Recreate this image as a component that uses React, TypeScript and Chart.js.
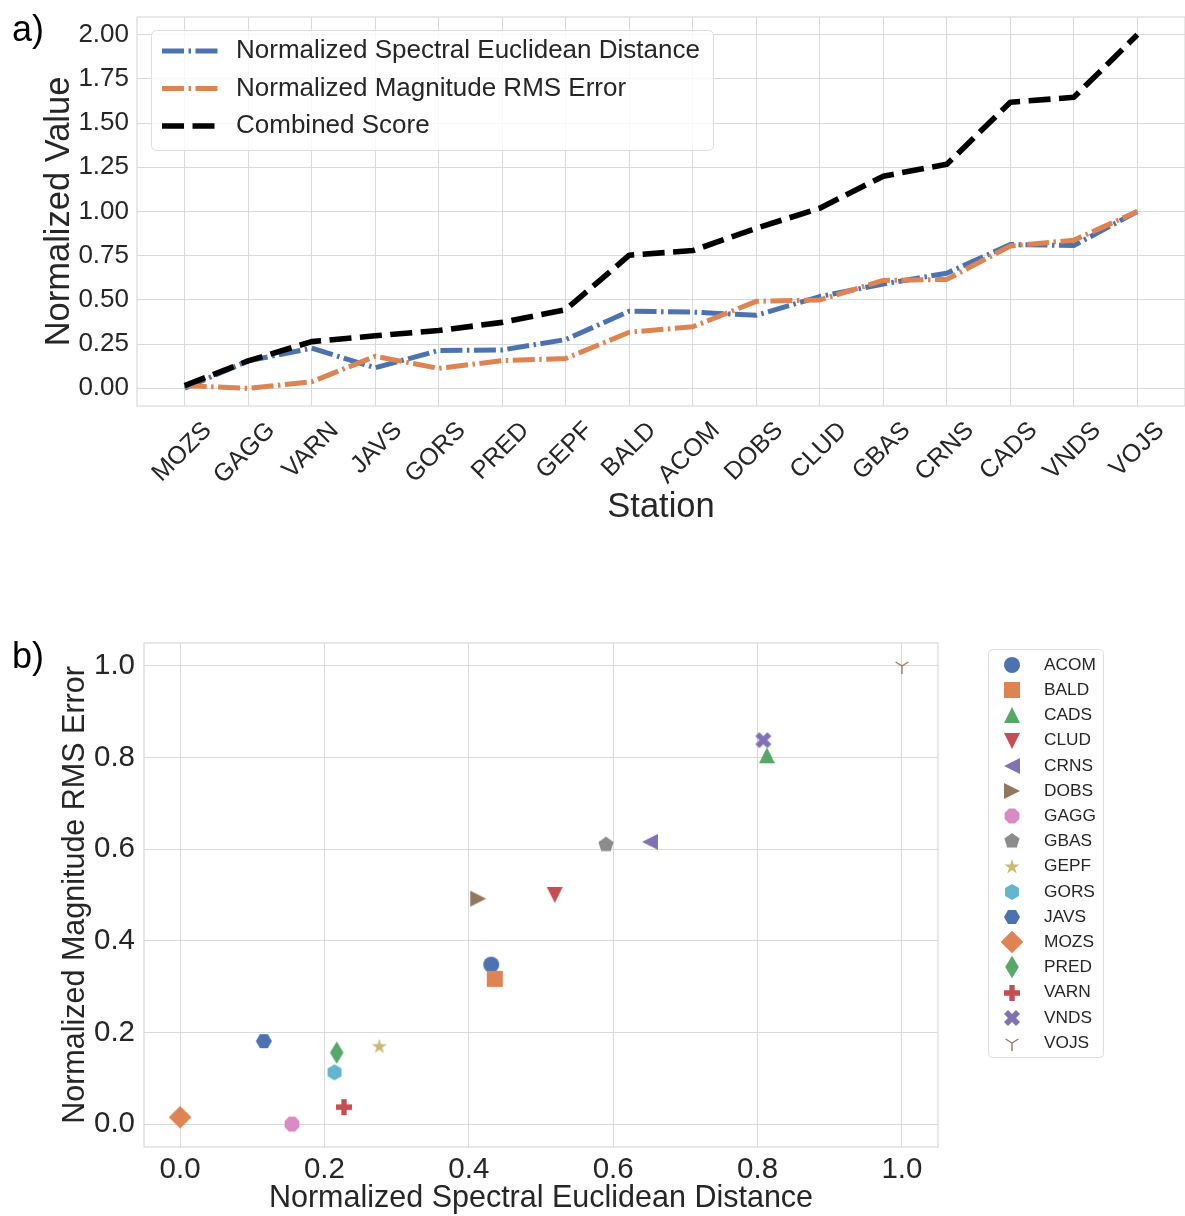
import React, { useEffect, useRef } from 'react';
import { Chart, registerables } from 'chart.js';

Chart.register(...registerables);

const FONT = "'Liberation Sans', Arial, Helvetica, sans-serif";
const TEXT_COLOR = '#262626';
const GRID_COLOR = '#d9d9d9';

// Stations ordered by combined score (panel a)
const stations = ['MOZS', 'GAGG', 'VARN', 'JAVS', 'GORS', 'PRED', 'GEPF', 'BALD', 'ACOM', 'DOBS', 'CLUD', 'GBAS', 'CRNS', 'CADS', 'VNDS', 'VOJS'];
const spectralDistance = [0.0, 0.155, 0.227, 0.116, 0.214, 0.217, 0.276, 0.436, 0.431, 0.413, 0.519, 0.59, 0.651, 0.813, 0.808, 1.0];
const magnitudeRmsError = [0.015, 0.0, 0.037, 0.181, 0.113, 0.156, 0.169, 0.317, 0.348, 0.492, 0.5, 0.61, 0.616, 0.805, 0.838, 1.0];
const combinedScore = [0.015, 0.155, 0.264, 0.297, 0.327, 0.373, 0.445, 0.753, 0.779, 0.905, 1.019, 1.2, 1.267, 1.618, 1.646, 2.0];

const valueTicks = [0, 0.25, 0.5, 0.75, 1, 1.25, 1.5, 1.75, 2];
const scatterTicks = [0, 0.2, 0.4, 0.6, 0.8, 1];

// Panel b legend order, marker shapes and colours
const legendStations = ['ACOM', 'BALD', 'CADS', 'CLUD', 'CRNS', 'DOBS', 'GAGG', 'GBAS', 'GEPF', 'GORS', 'JAVS', 'MOZS', 'PRED', 'VARN', 'VNDS', 'VOJS'];
const markerShapes = ['circle', 'square', 'triangleUp', 'triangleDown', 'triangleLeft', 'triangleRight', 'octagon', 'pentagon', 'star', 'hexagon', 'hexagonFlat', 'diamond', 'thinDiamond', 'plus', 'cross', 'tri'];
const markerColors = ['#4C72B0', '#DD8452', '#55A868', '#C44E52', '#8172B3', '#937860', '#DA8BC3', '#8C8C8C', '#CCB974', '#64B5CD', '#4C72B0', '#DD8452', '#55A868', '#C44E52', '#8172B3', '#937860'];

const LINE_COLORS = ['#4C72B0', '#DD8452', '#000000'];

function makeMarker(shape: string, color: string, ms = 16): HTMLCanvasElement {
  const half = Math.ceil(ms * 0.75) + 2;
  const c = document.createElement('canvas');
  c.width = half * 2;
  c.height = half * 2;
  const ctx = c.getContext('2d') as CanvasRenderingContext2D;
  ctx.translate(half, half);
  ctx.fillStyle = color;
  ctx.strokeStyle = color;
  const r = ms / 2;
  const poly = (pts: number[][]) => {
    ctx.beginPath();
    pts.forEach(([x, y], i) => (i ? ctx.lineTo(x, y) : ctx.moveTo(x, y)));
    ctx.closePath();
    ctx.fill();
  };
  const regular = (n: number, rad: number, start: number) =>
    Array.from({ length: n }, (_, k) => {
      const a = start + (k * 2 * Math.PI) / n;
      return [rad * Math.cos(a), rad * Math.sin(a)];
    });
  switch (shape) {
    case 'circle':
      ctx.beginPath();
      ctx.arc(0, 0, r, 0, Math.PI * 2);
      ctx.fill();
      break;
    case 'square':
      ctx.fillRect(-r, -r, ms, ms);
      break;
    case 'triangleUp':
      poly([[0, -r], [-r, r], [r, r]]);
      break;
    case 'triangleDown':
      poly([[0, r], [-r, -r], [r, -r]]);
      break;
    case 'triangleLeft':
      poly([[-r, 0], [r, -r], [r, r]]);
      break;
    case 'triangleRight':
      poly([[r, 0], [-r, -r], [-r, r]]);
      break;
    case 'octagon':
      poly(regular(8, r, -Math.PI / 2 + Math.PI / 8));
      break;
    case 'pentagon':
      poly(regular(5, r, -Math.PI / 2));
      break;
    case 'star': {
      const pts: number[][] = [];
      for (let k = 0; k < 10; k++) {
        const a = -Math.PI / 2 + (k * Math.PI) / 5;
        const rr = k % 2 === 0 ? r : r * 0.381966;
        pts.push([rr * Math.cos(a), rr * Math.sin(a)]);
      }
      poly(pts);
      break;
    }
    case 'hexagon':
      poly(regular(6, r, -Math.PI / 2));
      break;
    case 'hexagonFlat':
      poly(regular(6, r, 0));
      break;
    case 'diamond': {
      const d = r * Math.SQRT2;
      poly([[0, -d], [d, 0], [0, d], [-d, 0]]);
      break;
    }
    case 'thinDiamond': {
      const d = r * Math.SQRT2;
      poly([[0, -d], [d * 0.6, 0], [0, d], [-d * 0.6, 0]]);
      break;
    }
    case 'plus': {
      const u = ms / 6;
      poly([[-1, -3], [1, -3], [1, -1], [3, -1], [3, 1], [1, 1], [1, 3], [-1, 3], [-1, 1], [-3, 1], [-3, -1], [-1, -1]].map(([x, y]) => [x * u, y * u]));
      break;
    }
    case 'cross': {
      const u = ms / 4;
      poly([[-1, -2], [0, -1], [1, -2], [2, -1], [1, 0], [2, 1], [1, 2], [0, 1], [-1, 2], [-2, 1], [-1, 0], [-2, -1]].map(([x, y]) => [x * u, y * u]));
      break;
    }
    case 'tri':
      ctx.lineWidth = 1.4;
      ctx.beginPath();
      ctx.moveTo(0, 0);
      ctx.lineTo(0, r);
      ctx.moveTo(0, 0);
      ctx.lineTo(0.8 * r, -0.5 * r);
      ctx.moveTo(0, 0);
      ctx.lineTo(-0.8 * r, -0.5 * r);
      ctx.stroke();
      break;
    default:
      break;
  }
  return c;
}

function roundRect(ctx: CanvasRenderingContext2D, x: number, y: number, w: number, h: number, rad: number) {
  ctx.beginPath();
  ctx.moveTo(x + rad, y);
  ctx.lineTo(x + w - rad, y);
  ctx.arcTo(x + w, y, x + w, y + rad, rad);
  ctx.lineTo(x + w, y + h - rad);
  ctx.arcTo(x + w, y + h, x + w - rad, y + h, rad);
  ctx.lineTo(x + rad, y + h);
  ctx.arcTo(x, y + h, x, y + h - rad, rad);
  ctx.lineTo(x, y + rad);
  ctx.arcTo(x, y, x + rad, y, rad);
  ctx.closePath();
}

// Light frame around the plotting area
const framePlugin = {
  id: 'plotFrame',
  beforeDatasetsDraw(chart: any) {
    const { ctx, chartArea } = chart;
    ctx.save();
    ctx.strokeStyle = GRID_COLOR;
    ctx.lineWidth = 1.2;
    ctx.strokeRect(chartArea.left, chartArea.top, chartArea.right - chartArea.left, chartArea.bottom - chartArea.top);
    ctx.restore();
  },
};

// Legend for panel a, drawn inside the plot area at upper left
const lineLegendPlugin = {
  id: 'lineLegend',
  afterDraw(chart: any) {
    const { ctx, chartArea } = chart;
    const left = chartArea.left + 14;
    const top = chartArea.top + 13;
    ctx.save();
    roundRect(ctx, left + 0.5, top + 0.5, 562, 120, 5);
    ctx.fillStyle = 'rgba(255,255,255,0.8)';
    ctx.fill();
    ctx.strokeStyle = '#dedede';
    ctx.lineWidth = 1;
    ctx.stroke();
    chart.data.datasets.forEach((ds: any, i: number) => {
      const y = top + 21 + i * 37.5;
      ctx.strokeStyle = ds.borderColor;
      ctx.lineWidth = ds.borderWidth;
      ctx.setLineDash(ds.borderDash || []);
      ctx.beginPath();
      ctx.moveTo(left + 11, y);
      ctx.lineTo(left + 67, y);
      ctx.stroke();
      ctx.setLineDash([]);
      ctx.fillStyle = TEXT_COLOR;
      ctx.font = `26px ${FONT}`;
      ctx.textBaseline = 'middle';
      ctx.textAlign = 'left';
      ctx.fillText(ds.label, left + 85, y);
    });
    ctx.restore();
  },
};

// Legend for panel b, drawn to the right of the plot area
const markerLegendPlugin = {
  id: 'markerLegend',
  afterDraw(chart: any) {
    const { ctx, chartArea } = chart;
    const left = chartArea.right + 50;
    const top = chartArea.top + 6;
    const step = 25.2;
    const n = chart.data.datasets.length;
    ctx.save();
    roundRect(ctx, left + 0.5, top + 0.5, 115, 16 * 2 + (n - 1) * step - 2, 4);
    ctx.fillStyle = 'rgba(255,255,255,0.8)';
    ctx.fill();
    ctx.strokeStyle = '#dedede';
    ctx.lineWidth = 1;
    ctx.stroke();
    chart.data.datasets.forEach((ds: any, i: number) => {
      const y = top + 16 + i * step;
      const img = ds.pointStyle as HTMLCanvasElement;
      ctx.drawImage(img, Math.round(left + 24 - img.width / 2), Math.round(y - img.height / 2));
      ctx.fillStyle = TEXT_COLOR;
      ctx.font = `17.3px ${FONT}`;
      ctx.textBaseline = 'middle';
      ctx.textAlign = 'left';
      ctx.fillText(ds.label, left + 56, y);
    });
    ctx.restore();
  },
};

const TOP_H = 540;
const BOTTOM_H = 660;

export default function App() {
  const topRef = useRef<HTMLCanvasElement | null>(null);
  const bottomRef = useRef<HTMLCanvasElement | null>(null);

  useEffect(() => {
    if (!topRef.current || !bottomRef.current) return;

    const lineSeries = [
      { label: 'Normalized Spectral Euclidean Distance', values: spectralDistance, dash: [22, 4.5, 2.5, 4.5], width: 5 },
      { label: 'Normalized Magnitude RMS Error', values: magnitudeRmsError, dash: [22, 4.5, 2.5, 4.5], width: 5 },
      { label: 'Combined Score', values: combinedScore, dash: [22, 8.5], width: 5.6 },
    ];

    const topChart = new Chart(topRef.current, {
      type: 'line',
      data: {
        datasets: lineSeries.map((s, i) => ({
          label: s.label,
          data: s.values.map((v, k) => ({ x: k, y: v })),
          borderColor: LINE_COLORS[i],
          backgroundColor: LINE_COLORS[i],
          borderWidth: s.width,
          borderDash: s.dash,
          borderJoinStyle: 'round',
          borderCapStyle: 'butt',
          pointRadius: 0,
          fill: false,
          tension: 0,
          order: lineSeries.length - i,
        })),
      },
      options: {
        responsive: false,
        animation: false,
        devicePixelRatio: 1,
        events: [],
        layout: { padding: { top: 17, left: 0, right: 0, bottom: 0 } },
        plugins: { legend: { display: false }, tooltip: { enabled: false } },
        scales: {
          x: {
            type: 'linear',
            min: -0.75,
            max: stations.length - 1 + 0.75,
            afterBuildTicks: (scale: any) => {
              scale.ticks = stations.map((_, i) => ({ value: i }));
            },
            afterFit: (scale: any) => {
              scale.height = TOP_H - 406;
              scale.paddingLeft = 0;
              scale.paddingRight = 0;
            },
            grid: { color: GRID_COLOR, lineWidth: 1, drawTicks: false },
            border: { display: false },
            ticks: {
              autoSkip: false,
              minRotation: 45,
              maxRotation: 45,
              labelOffset: 23,
              padding: 10,
              color: TEXT_COLOR,
              font: { family: FONT, size: 25 },
              callback: (v: any) => stations[v] ?? '',
            },
            title: {
              display: true,
              text: 'Station',
              color: TEXT_COLOR,
              font: { family: FONT, size: 34.5 },
              padding: { top: 0, bottom: 12 },
            },
          },
          y: {
            type: 'linear',
            min: -0.1,
            max: 2.1,
            afterBuildTicks: (scale: any) => {
              scale.ticks = valueTicks.map((v) => ({ value: v }));
            },
            afterFit: (scale: any) => {
              scale.width = 137;
              scale.paddingTop = 0;
              scale.paddingBottom = 0;
            },
            grid: { color: GRID_COLOR, lineWidth: 1, drawTicks: false },
            border: { display: false },
            ticks: {
              padding: 8,
              color: TEXT_COLOR,
              font: { family: FONT, size: 26 },
              callback: (v: any) => Number(v).toFixed(2),
            },
            title: {
              display: true,
              text: 'Normalized Value',
              color: TEXT_COLOR,
              font: { family: FONT, size: 34.5 },
              padding: { top: 39, bottom: 0 },
            },
          },
        },
      } as any,
      plugins: [framePlugin, lineLegendPlugin],
    });

    const scatterDatasets = legendStations.map((name, i) => {
      const k = stations.indexOf(name);
      return {
        label: name,
        data: [{ x: spectralDistance[k], y: magnitudeRmsError[k] }],
        pointStyle: makeMarker(markerShapes[i], markerColors[i]),
        pointRadius: 8,
        backgroundColor: markerColors[i],
        borderColor: markerColors[i],
        showLine: false,
        order: legendStations.length - i,
      };
    });

    const bottomChart = new Chart(bottomRef.current, {
      type: 'scatter',
      data: { datasets: scatterDatasets },
      options: {
        responsive: false,
        animation: false,
        devicePixelRatio: 1,
        events: [],
        layout: { padding: { top: 83, left: 0, right: 247, bottom: 0 } },
        plugins: { legend: { display: false }, tooltip: { enabled: false } },
        scales: {
          x: {
            type: 'linear',
            min: -0.05,
            max: 1.05,
            afterBuildTicks: (scale: any) => {
              scale.ticks = scatterTicks.map((v) => ({ value: v }));
            },
            afterFit: (scale: any) => {
              scale.height = BOTTOM_H - 587;
              scale.paddingLeft = 0;
              scale.paddingRight = 0;
            },
            grid: { color: GRID_COLOR, lineWidth: 1, drawTicks: false },
            border: { display: false },
            ticks: {
              padding: 5,
              maxRotation: 0,
              color: TEXT_COLOR,
              font: { family: FONT, size: 29.5 },
              callback: (v: any) => Number(v).toFixed(1),
            },
            title: {
              display: true,
              text: 'Normalized Spectral Euclidean Distance',
              color: TEXT_COLOR,
              font: { family: FONT, size: 30.5 },
              padding: { top: 0, bottom: 3 },
            },
          },
          y: {
            type: 'linear',
            min: -0.05,
            max: 1.05,
            afterBuildTicks: (scale: any) => {
              scale.ticks = scatterTicks.map((v) => ({ value: v }));
            },
            afterFit: (scale: any) => {
              scale.width = 144;
              scale.paddingTop = 0;
              scale.paddingBottom = 0;
            },
            grid: { color: GRID_COLOR, lineWidth: 1, drawTicks: false },
            border: { display: false },
            ticks: {
              padding: 9,
              color: TEXT_COLOR,
              font: { family: FONT, size: 29.5 },
              callback: (v: any) => Number(v).toFixed(1),
            },
            title: {
              display: true,
              text: 'Normalized Magnitude RMS Error',
              color: TEXT_COLOR,
              font: { family: FONT, size: 30.5 },
              padding: { top: 57, bottom: 0 },
            },
          },
        },
      } as any,
      plugins: [framePlugin, markerLegendPlugin],
    });

    return () => {
      topChart.destroy();
      bottomChart.destroy();
    };
  }, []);

  const panelLabel: React.CSSProperties = {
    position: 'absolute',
    left: 12,
    fontFamily: FONT,
    fontSize: 36,
    color: '#000',
    lineHeight: 'normal',
  };

  return (
    <div style={{ position: 'absolute', left: 0, top: 0, width: 1185, height: 1216, background: '#fff', overflow: 'hidden' }}>
      <canvas ref={topRef} width={1185} height={TOP_H} style={{ position: 'absolute', left: 0, top: 0, display: 'block' }} />
      <canvas ref={bottomRef} width={1185} height={BOTTOM_H} style={{ position: 'absolute', left: 0, top: 560, display: 'block' }} />
      <div style={{ ...panelLabel, top: 8 }}>a)</div>
      <div style={{ ...panelLabel, top: 635 }}>b)</div>
    </div>
  );
}
